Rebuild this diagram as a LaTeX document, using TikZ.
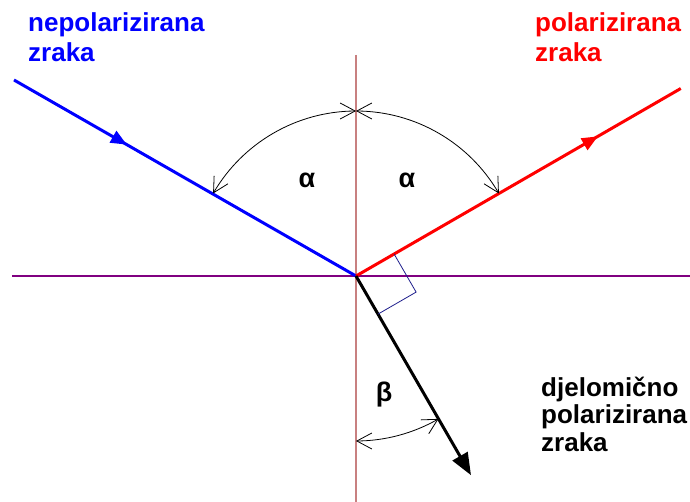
\documentclass[tikz,border=0pt]{standalone}
\usepackage{fontspec}
\setmainfont{Liberation Sans}
\usetikzlibrary{arrows.meta, decorations.markings, bending, calc}

\tikzset{
  ray/.style={line width=3pt},
  anglearc/.style={black, line width=0.8pt, {Straight Barb[length=15pt,width=16pt]}-{Straight Barb[length=15pt,width=16pt]}},
  lbl/.style={font=\fontsize{26}{30}\selectfont\bfseries, align=left, anchor=base west, inner sep=0pt},
  grk/.style={font=\fontsize{27}{30}\selectfont\bfseries, inner sep=0pt},
  midarrow/.style={postaction={decorate}, decoration={markings, mark=at position #1 with {\arrow{Triangle[length=16pt,width=13pt]}}}}
}

\begin{document}
\begin{tikzpicture}[x=1pt, y=-1pt]
  \useasboundingbox (0,0) rectangle (690,502);

  % 1. okomica i granica sredstava
  \coordinate (O) at (356,276);
  \coordinate (N1) at (356,55);
  \coordinate (N2) at (356,502);
  \coordinate (H1) at (12,276);
  \coordinate (H2) at (690,276);
  \draw[color={rgb,255:red,200;green,128;blue,128}, line width=1.5pt] (N1) -- (N2);
  \draw[color={rgb,255:red,128;green,0;blue,128}, line width=2.2pt] (H1) -- (H2);

  % 2. upadna (plava), reflektirana (crvena) i lomljena (crna) zraka
  % (y os ide prema dolje, pa kutovi rastu u smjeru kazaljke)
  \coordinate (A) at (14,80);
  \coordinate (B) at ($(O)+(-30:375)$);
  \coordinate (C) at ($(O)+(60:230)$);
  \draw[ray, blue, midarrow=0.33] (A) -- (O);
  \draw[ray, red, midarrow=0.745] (O) -- (B);
  \draw[ray, black, -{Triangle[length=22pt,width=17pt]}] (O) -- (C);

  % 3. pravi kut izmedju reflektirane i lomljene zrake
  \draw[color={rgb,255:red,30;green,30;blue,140}, line width=0.8pt]
    ($(O)+(-30:44)$) -- ($(O)+(-30:44)+(60:44)$) -- ($(O)+(60:44)$);

  % 4. kutovi
  \draw[anglearc] (O) ++(210:165) arc[start angle=210, end angle=270, radius=165];
  \draw[anglearc] (O) ++(270:165) arc[start angle=270, end angle=330, radius=165];
  \draw[anglearc] (O) ++(90:165) arc[start angle=90, end angle=60, radius=165];
  \node[grk] (alpha1) at (307,180) {α};
  \node[grk] (alpha2) at (407,180) {α};
  \node[grk] (beta) at (384,395) {β};

  % 5. natpisi (sidro je na zadnjem retku)
  \node[lbl, blue] (upadna) at (28,62) {nepolarizirana\\zraka};
  \node[lbl, red] (odbijena) at (535,62) {polarizirana\\zraka};
  \node[lbl, black, font=\fontsize{26}{27.5}\selectfont\bfseries] (lomljena) at (541,451) {djelomično\\polarizirana\\zraka};
\end{tikzpicture}
\end{document}
